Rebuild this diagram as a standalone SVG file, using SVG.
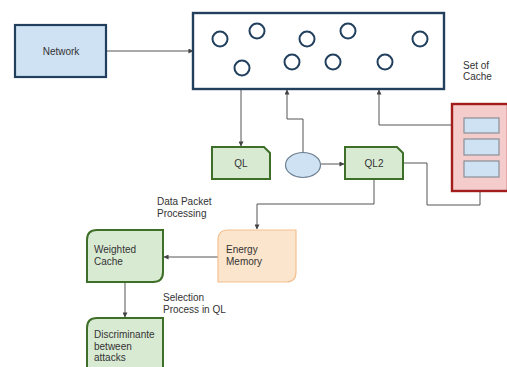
<svg xmlns="http://www.w3.org/2000/svg" width="507" height="367" viewBox="0 0 507 367">
  <style>
    text { font-family: "Liberation Sans", Arial, sans-serif; font-size: 10px; fill: #333; }
    .blue { fill: #cfe2f3; stroke: #22405e; stroke-width: 2.2; }
    .green { fill: #d9ead3; stroke: #3d6f28; stroke-width: 2; }
    .orange { fill: #fce5cd; stroke: #f3c08f; stroke-width: 1.2; }
    .dot { fill: #fff; stroke: #22405e; stroke-width: 2; }
    .conn { fill: none; stroke: #555; stroke-width: 1; }
    .arr { marker-end: url(#arrow); }
  </style>
  <defs>
    <marker id="arrow" viewBox="0 0 6 6" refX="5.5" refY="3" markerWidth="5" markerHeight="5" orient="auto" markerUnits="userSpaceOnUse">
      <path d="M0,0 L6,3 L0,6 Z" fill="#444"/>
    </marker>
  </defs>
  <rect width="507" height="367" fill="#fff"/>

  <g id="connectors">
    <path class="conn arr" d="M107,51 H193"/>
    <path class="conn arr" d="M241,89 V146"/>
    <path class="conn arr" d="M303,153 V119 H287 V90"/>
    <path class="conn arr" d="M321,164 H344"/>
    <path class="conn arr" d="M464,125 H379 V90"/>
    <path class="conn" d="M403,163 H427 V205 H480 V192"/>
    <path class="conn arr" d="M374,179 V204 H257 V229"/>
    <path class="conn arr" d="M218,257 H164"/>
    <path class="conn arr" d="M125,282 V317"/>
  </g>

  <g id="network">
    <rect class="blue" x="15" y="25" width="91" height="52"/>
    <text x="61" y="55" text-anchor="middle">Network</text>
  </g>

  <g id="cache-pool">
    <rect x="193" y="13" width="251" height="76" fill="#fff" stroke="#22405e" stroke-width="2.4"/>
    <circle class="dot" cx="220" cy="39" r="7.5"/>
    <circle class="dot" cx="257" cy="31" r="7.5"/>
    <circle class="dot" cx="307" cy="39" r="7.5"/>
    <circle class="dot" cx="348" cy="31" r="7.5"/>
    <circle class="dot" cx="420" cy="39" r="7.5"/>
    <circle class="dot" cx="242" cy="68" r="7.5"/>
    <circle class="dot" cx="292" cy="62" r="7.5"/>
    <circle class="dot" cx="333" cy="62" r="7.5"/>
    <circle class="dot" cx="385" cy="62" r="7.5"/>
  </g>

  <g id="set-of-cache">
    <text x="463" y="69">Set of</text>
    <text x="463" y="80">Cache</text>
    <rect x="452" y="104" width="56" height="87" fill="#f4cccc" stroke="#a31d1d" stroke-width="2.4"/>
    <rect x="464" y="118" width="35" height="15" fill="#cfe2f3" stroke="#8a8f96" stroke-width="1.2"/>
    <rect x="464" y="139" width="35" height="16" fill="#cfe2f3" stroke="#8a8f96" stroke-width="1.2"/>
    <rect x="464" y="161" width="35" height="16" fill="#cfe2f3" stroke="#8a8f96" stroke-width="1.2"/>
  </g>

  <g id="ql">
    <path class="green" d="M212,147 H264 L270,153 V179 H212 Z"/>
    <text x="241" y="167" text-anchor="middle">QL</text>
  </g>

  <g id="selector">
    <ellipse cx="303" cy="165" rx="17.5" ry="12.5" fill="#cfe2f3" stroke="#6d7f92" stroke-width="1.2"/>
  </g>

  <g id="ql2">
    <path class="green" d="M345,147 H397 L403,153 V179 H345 Z"/>
    <text x="374" y="167" text-anchor="middle">QL2</text>
  </g>

  <g id="data-packet-label">
    <text x="157" y="205">Data Packet</text>
    <text x="157" y="217">Processing</text>
  </g>

  <g id="energy-memory">
    <path class="orange" d="M228,230 H296 V272 Q296,282 286,282 H218 V240 Q218,230 228,230 Z"/>
    <text x="226" y="253">Energy</text>
    <text x="226" y="265">Memory</text>
  </g>

  <g id="weighted-cache">
    <path class="green" d="M97,230 H163 V272 Q163,282 153,282 H87 V240 Q87,230 97,230 Z"/>
    <text x="94" y="253">Weighted</text>
    <text x="94" y="265">Cache</text>
  </g>

  <g id="selection-label">
    <text x="163" y="301">Selection</text>
    <text x="163" y="313">Process in QL</text>
  </g>

  <g id="discriminante">
    <path class="green" d="M97,318 H163 V372 H87 V328 Q87,318 97,318 Z"/>
    <text x="94" y="338">Discriminante</text>
    <text x="94" y="350">between</text>
    <text x="94" y="361">attacks</text>
  </g>
</svg>
